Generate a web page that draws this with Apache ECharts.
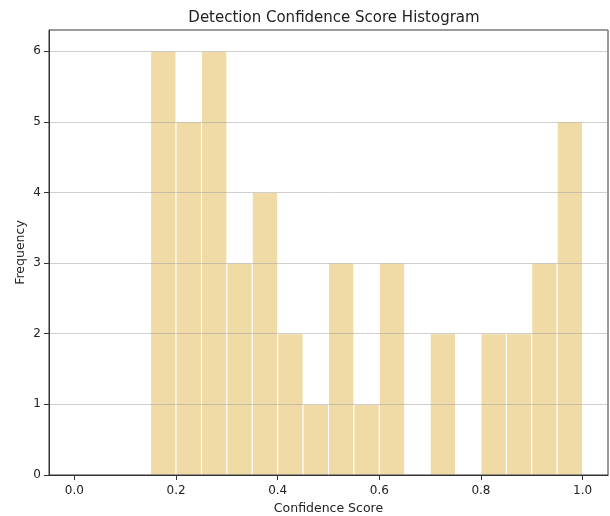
<!DOCTYPE html>
<html><head><meta charset="utf-8">
<script src="https://cdn.jsdelivr.net/npm/echarts@6/dist/echarts.min.js"></script>
<style>html,body{margin:0;padding:0;background:#fff}#c{width:610px;height:516px}</style>
</head><body><div id="c"></div>
<script>
const binStarts = [0.00,0.05,0.10,0.15,0.20,0.25,0.30,0.35,0.40,0.45,0.50,0.55,0.60,0.65,0.70,0.75,0.80,0.85,0.90,0.95];
const binWidth = 0.05;
const counts = [0,0,0,6,5,6,3,4,2,1,3,1,3,0,2,0,2,2,3,5];
const xTicks = [0,0.2,0.4,0.6,0.8,1.0];
const yTicks = [0,1,2,3,4,5,6];

const data = binStarts.map((s,i)=>[s, s+binWidth, counts[i]]);
const font = 'DejaVu Sans';
const chart = echarts.init(document.getElementById('c'));
chart.setOption({
  animation:false,
  backgroundColor:'#fff',
  title:{text:'Detection Confidence Score Histogram', left:329, top:6, textAlign:'center',
    textStyle:{fontFamily:font, fontSize:15, fontWeight:'normal', color:'#222'}},
  grid:{left:49, right:2, top:30, bottom:41, outerBoundsMode:'none', containLabel:false,
    show:true, borderColor:'#333', borderWidth:1, backgroundColor:'transparent', z:10},
  xAxis:{type:'value', min:-0.05, max:1.05, z:10,
    name:'Confidence Score', nameLocation:'middle', nameGap:27,
    nameTextStyle:{fontFamily:font, fontSize:12.5, color:'#222'},
    axisLine:{show:true, onZero:false, lineStyle:{color:'#333'}},
    axisTick:{show:true, length:5, lineStyle:{color:'#333'}, customValues:xTicks},
    axisLabel:{fontFamily:font, fontSize:12, color:'#222', margin:10, customValues:xTicks,
      formatter:v=>v.toFixed(1)},
    splitLine:{show:false}},
  yAxis:{type:'value', min:0, max:6.3, interval:1, z:10,
    name:'Frequency', nameLocation:'middle', nameGap:22, nameRotate:90, nameMoveOverlap:false,
    nameTextStyle:{fontFamily:font, fontSize:12.5, color:'#222'},
    axisLine:{show:true, onZero:false, lineStyle:{color:'#333'}},
    axisTick:{show:true, length:5, lineStyle:{color:'#333'}},
    axisLabel:{fontFamily:font, fontSize:12, color:'#222', margin:8, showMaxLabel:false},
    splitLine:{show:true, lineStyle:{color:'rgba(160,160,160,0.5)', width:1}}},
  series:[{type:'custom', data:data, encode:{x:[0,1], y:2}, z:2,
    renderItem:function(params, api){
      const h = api.value(2);
      if(!h) return null;
      const p0 = api.coord([api.value(0), 0]);
      const p1 = api.coord([api.value(1), h]);
      return {type:'rect', shape:{x:p0[0], y:p1[1], width:p1[0]-p0[0], height:p0[1]-p1[1]},
        style:{fill:'rgba(218,165,32,0.4)', stroke:'#fff', lineWidth:1}};
    }}]
});
</script></body></html>
